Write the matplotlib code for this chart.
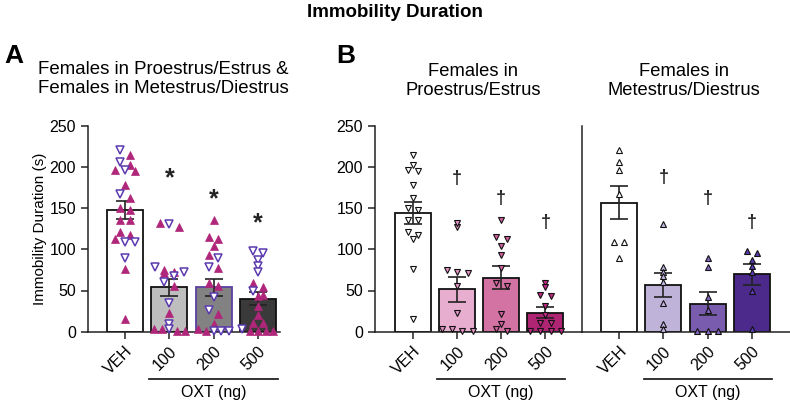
import numpy as np
import matplotlib
matplotlib.use('Agg')
import matplotlib.pyplot as plt
from matplotlib.transforms import blended_transform_factory

plt.rcParams['font.family'] = ['Liberation Sans', 'DejaVu Sans']

# Immobility duration (s)
doses = ['VEH', '100', '200', '500']

pe_veh = [215, 202, 195, 196, 178, 162, 148, 150, 135, 136, 121, 117, 113, 76, 16]
pe_100 = [127, 132, 75, 71, 73, 55, 23, 1, 3, 1, 3]
pe_200 = [136, 113, 115, 104, 93, 77, 59, 55, 21, 9, 3, 1]
pe_500 = [59, 54, 43, 45, 31, 20, 10, 10, 1, 1, 1, 1]

md_veh = [220, 206, 196, 167, 109, 109, 90]
md_100 = [131, 78, 73, 68, 60, 35, 9, 3]
md_200 = [89, 78, 42, 26, 1, 1, 1]
md_500 = [98, 96, 87, 80, 73, 50, 3]

# significance marks (y position of symbol) for 100, 200, 500
star_y = [186, 161, 131]
dagger_pe_y = [186, 162, 132]
dagger_md_y = [187, 162, 133]

pe = [pe_veh, pe_100, pe_200, pe_500]
md = [md_veh, md_100, md_200, md_500]

MAGENTA = '#B0267A'
PURPLE = '#5A3AAE'
INK = '#222222'


def mean_sem(v):
    v = np.asarray(v, float)
    return v.mean(), v.std(ddof=1) / np.sqrt(len(v))


def swarm(values, h, d0, span=0.7):
    # group points into rows of similar value and spread each row symmetrically
    vals = np.asarray(values, float)
    order = np.argsort(-vals, kind='stable')
    offs = np.zeros(len(vals))
    rows = []
    for i in order:
        if rows and vals[rows[-1][0]] - vals[i] < h:
            rows[-1].append(i)
        else:
            rows.append([i])
    for row in rows:
        n = len(row)
        d = d0 if n < 2 else min(d0, span / (n - 1))
        for k, i in enumerate(row):
            offs[i] = (k - (n - 1) / 2) * d
    return offs


def style_axis(ax, xlim, show_y=True):
    ax.set_ylim(0, 250)
    ax.set_xlim(*xlim)
    for s in ['top', 'right']:
        ax.spines[s].set_visible(False)
    for s in ['left', 'bottom']:
        ax.spines[s].set_linewidth(1.1)
        ax.spines[s].set_color(INK)
    ax.set_xticks(range(4))
    ax.set_xticklabels(doses, rotation=45, ha='right', rotation_mode='anchor')
    ax.set_yticks([0, 50, 100, 150, 200, 250])
    ax.tick_params(axis='both', direction='out', length=5, width=1.1,
                   labelsize=11.5, color=INK)
    if not show_y:
        ax.tick_params(axis='y', left=False, labelleft=False)


def oxt_bracket(ax):
    tr = blended_transform_factory(ax.transData, fig.transFigure)
    ax.plot([0.55, 3.45], [25 / 404] * 2, color=INK, lw=1.3,
            transform=tr, clip_on=False)
    ax.text(2.0, 11 / 404, 'OXT (ng)', transform=tr, ha='center',
            va='center', fontsize=11.5)


def draw_bars(ax, groups, colors, edges):
    stats = [mean_sem(g) for g in groups]
    means = [s[0] for s in stats]
    sems = [s[1] for s in stats]
    ax.bar(range(4), means, width=0.815, color=colors, edgecolor=edges,
           linewidth=1.3, zorder=1)
    ax.errorbar(range(4), means, yerr=sems, fmt='none', ecolor=INK,
                elinewidth=1.2, capsize=6.8, capthick=1.2, zorder=2)


fig = plt.figure(figsize=(7.9, 4.04), dpi=100)
axA = fig.add_axes([88 / 790, 72.3 / 404, 192 / 790, 206 / 404])
axB1 = fig.add_axes([375 / 790, 72.3 / 404, 207 / 790, 206 / 404])
axB2 = fig.add_axes([582 / 790, 72.3 / 404, 208 / 790, 206 / 404])

# ---- Panel A: both cycle groups pooled
combined = [p + m for p, m in zip(pe, md)]
draw_bars(axA, combined, ['white', '#BEBEBE', '#828282', '#3A3A3A'],
          ['#111111', '#111111', '#5B3FA0', '#111111'])
for i in range(4):
    vals = combined[i]
    offs = swarm(vals, 6, 0.22)
    n_pe = len(pe[i])
    axA.plot(i + offs[:n_pe], vals[:n_pe], ls='none', marker='^', ms=5.8,
             mfc=MAGENTA, mec=MAGENTA, mew=0.5, zorder=3, clip_on=False)
    axA.plot(i + offs[n_pe:], vals[n_pe:], ls='none', marker='v', ms=5.8,
             mfc='white', mec=PURPLE, mew=1.1, zorder=3, clip_on=False)
for i, y in enumerate(star_y):
    axA.text(i + 1, y, '*', ha='center', va='center', fontsize=18,
             fontweight='bold', color=INK)
style_axis(axA, (-0.835, 3.5))
axA.set_ylabel('Immobility Duration (s)', fontsize=11, labelpad=2)
oxt_bracket(axA)

# ---- Panel B left: Proestrus/Estrus
pe_bar = ['white', '#E8AECF', '#D273A4', '#B02474']
pe_pt = ['white', '#E592C4', '#D45FA0', '#C02A85']
draw_bars(axB1, pe, pe_bar, '#111111')
for i in range(4):
    offs = swarm(pe[i], 5, 0.24)
    axB1.plot(i + offs, pe[i], ls='none', marker='v', ms=4.8, mfc=pe_pt[i],
              mec='#111111', mew=0.8, zorder=3, clip_on=False)
for i, y in enumerate(dagger_pe_y):
    axB1.text(i + 1, y, '\u2020', ha='center', va='center', fontsize=13,
              fontweight='bold', color=INK)
style_axis(axB1, (-0.86, 3.83))
oxt_bracket(axB1)

# ---- Panel B right: Metestrus/Diestrus
md_bar = ['white', '#BFB3DA', '#7A5CAF', '#4B2A8C']
md_pt = ['white', '#C4B4E4', '#8767C4', '#5A3AB0']
draw_bars(axB2, md, md_bar, '#111111')
for i in range(4):
    offs = swarm(md[i], 5, 0.24)
    axB2.plot(i + offs, md[i], ls='none', marker='^', ms=4.8, mfc=md_pt[i],
              mec='#111111', mew=0.8, zorder=3, clip_on=False)
for i, y in enumerate(dagger_md_y):
    axB2.text(i + 1, y, '\u2020', ha='center', va='center', fontsize=13,
              fontweight='bold', color=INK)
style_axis(axB2, (-0.84, 3.86), show_y=False)
oxt_bracket(axB2)

# ---- titles and panel letters
fig.text(0.5, 0.970, 'Immobility Duration', ha='center', va='center',
         fontsize=13.5, fontweight='bold')
fig.text(38 / 790, 0.804, 'Females in Proestrus/Estrus &\nFemales in Metestrus/Diestrus',
         ha='left', va='center', fontsize=13.4, linespacing=1.15)
fig.text(473 / 790, 0.800, 'Females in\nProestrus/Estrus', ha='center',
         va='center', fontsize=13.2, linespacing=1.15)
fig.text(684 / 790, 0.800, 'Females in\nMetestrus/Diestrus', ha='center',
         va='center', fontsize=13.2, linespacing=1.15)
fig.text(4 / 790, 0.861, 'A', ha='left', va='center', fontsize=19,
         fontweight='bold')
fig.text(336 / 790, 0.861, 'B', ha='left', va='center', fontsize=19,
         fontweight='bold')

fig.savefig('out.png', dpi=100)
